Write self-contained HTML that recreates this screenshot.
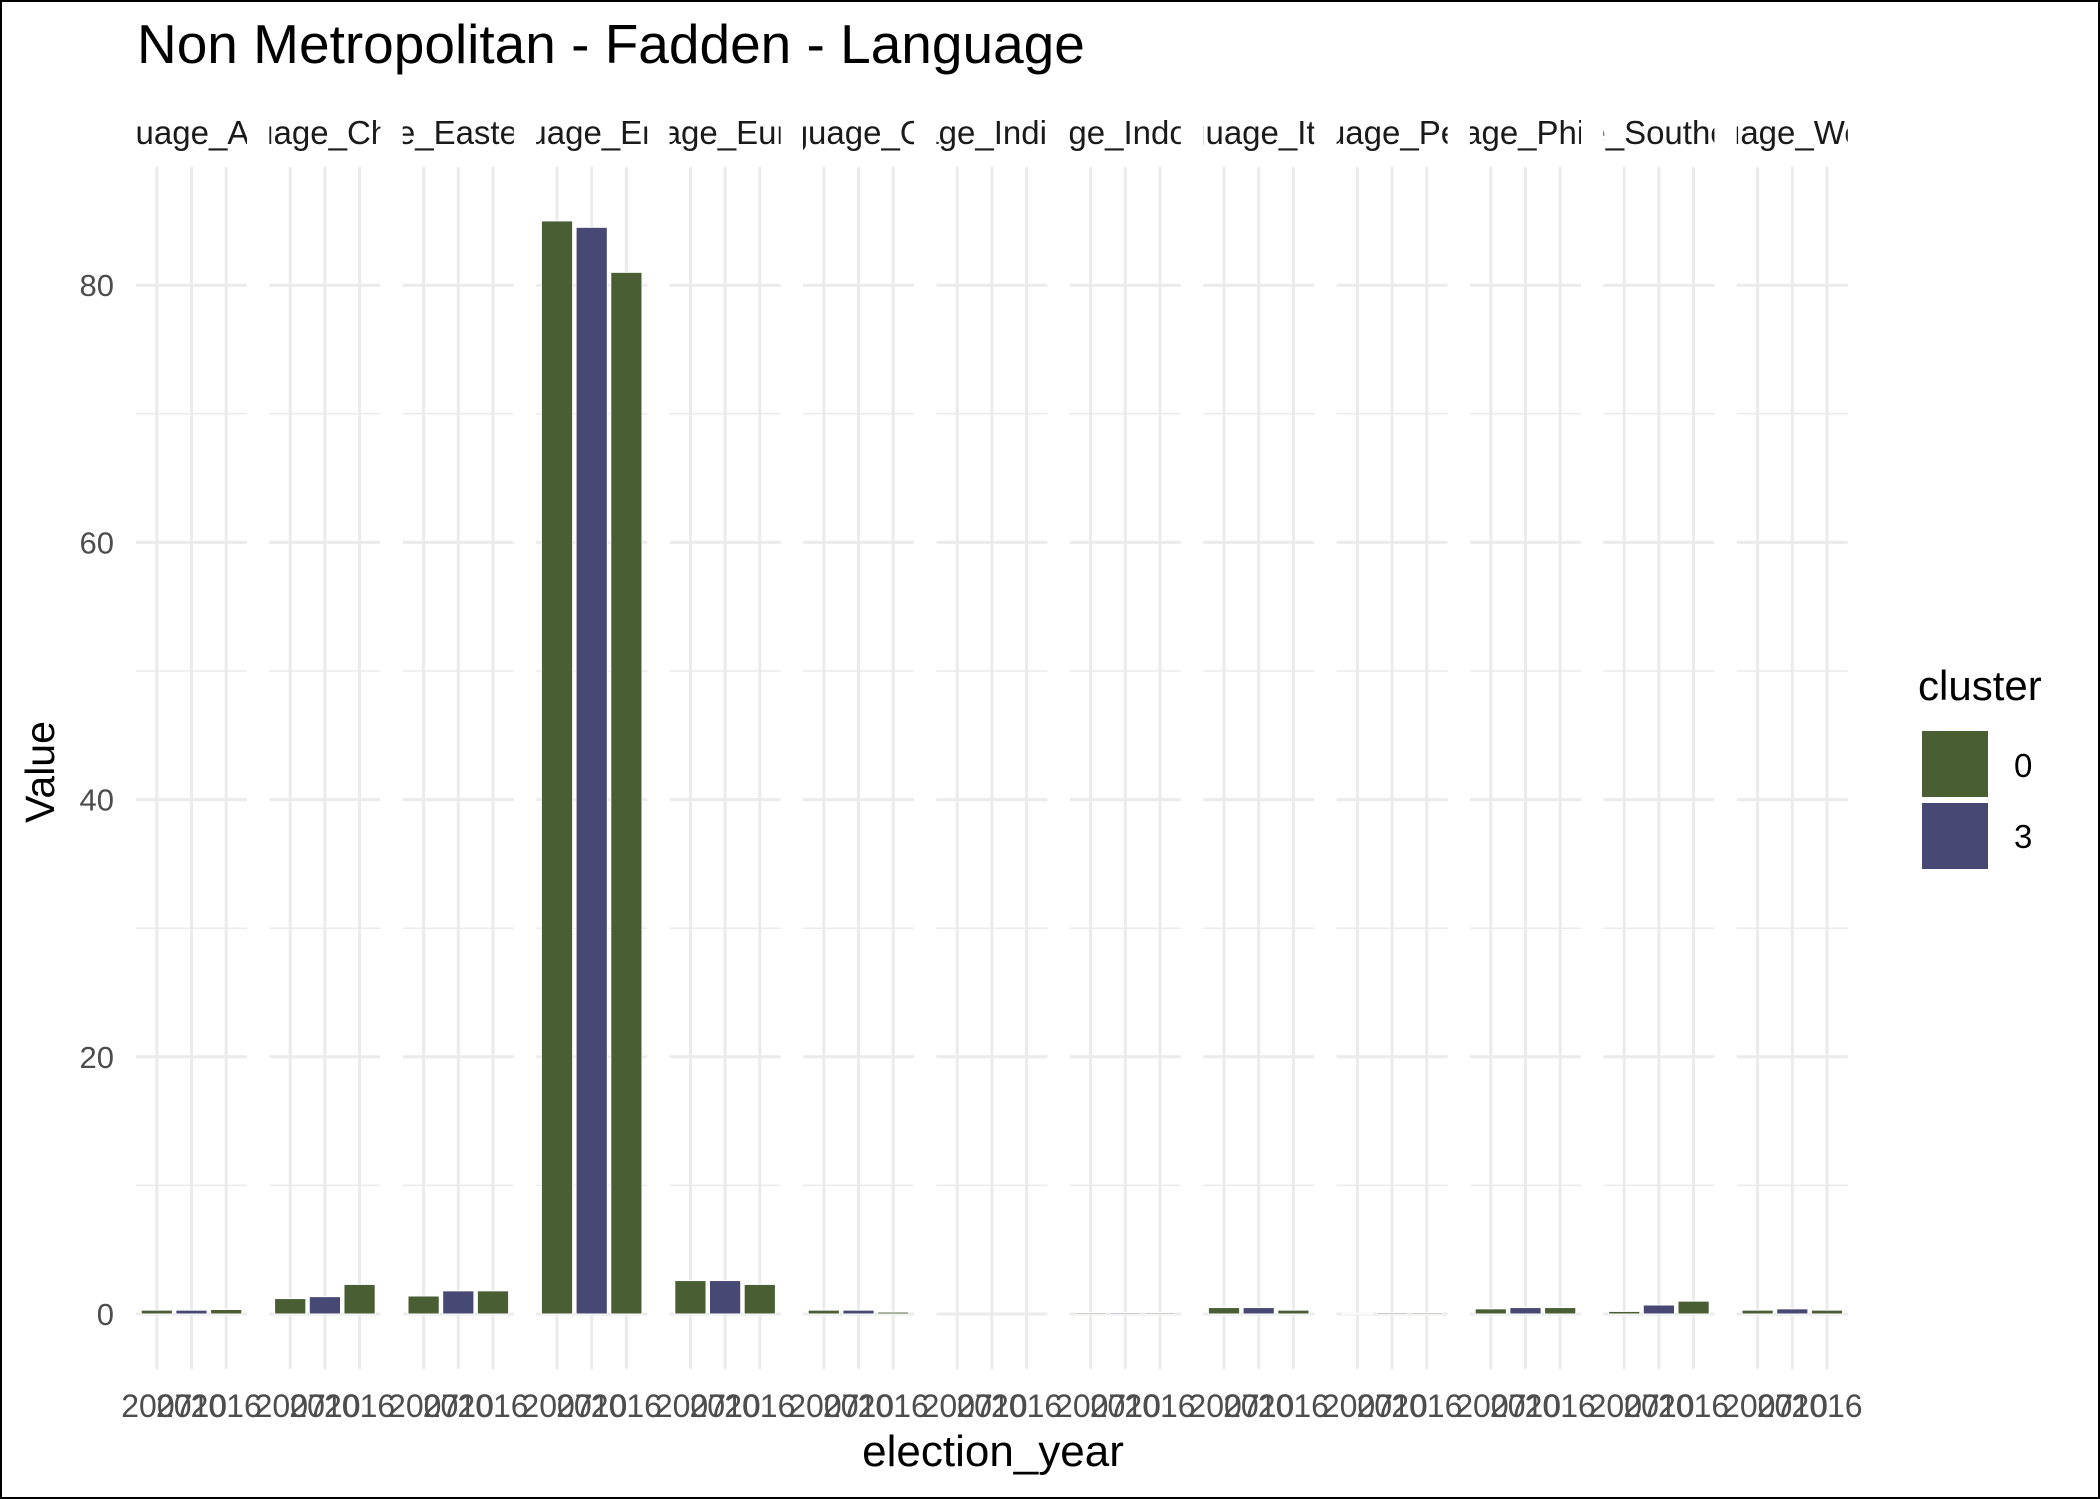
<!DOCTYPE html>
<html><head><meta charset="utf-8"><style>
html,body{margin:0;padding:0;background:#fff;}
svg{display:block;font-family:"Liberation Sans",Arial,sans-serif;}
</style></head><body>
<svg id="chart" width="2100" height="1499" viewBox="0 0 2100 1499">
<rect x="1" y="1" width="2098" height="1497" fill="#fff" stroke="#000" stroke-width="2"/>
<text x="137" y="63" font-size="55" fill="#000">Non Metropolitan - Fadden - Language</text>
<text transform="translate(54,772) rotate(-90)" text-anchor="middle" font-size="41" fill="#000">Value</text>
<text x="993" y="1466" text-anchor="middle" font-size="44" fill="#000">election_year</text>
<g id="plot"></g>
<g>
<text x="1918" y="700" font-size="42" fill="#000">cluster</text>
<rect x="1922" y="731" width="66" height="66" fill="#4a5e34"/>
<text x="2014" y="777" font-size="33" fill="#000">0</text>
<rect x="1922" y="803" width="66" height="66" fill="#474873"/>
<text x="2014" y="848" font-size="33" fill="#000">3</text>
</g>
</svg>
<script>
const panels = ["Language_Arabic","Language_Chinese","Language_Eastern_Asian","Language_English","Language_European","Language_Other","Language_Indigenous","Language_Indo_Aryan","Language_Italian","Language_Persian","Language_Philippine","Language_Southern_Asian","Language_Western"];
const years = ["2007","2010","2016"];
const clusters = ["0","3","0"];
const values2007 = [0.3,1.2,1.4,85,2.6,0.3,0,0.1,0.5,0.05,0.4,0.2,0.3];
const values2010 = [0.3,1.35,1.8,84.5,2.6,0.3,0,0.1,0.5,0.1,0.5,0.7,0.4];
const values2016 = [0.35,2.3,1.8,81,2.3,0.15,0,0.1,0.3,0.1,0.5,1.0,0.3];
const yTicks = [0,20,40,60,80];
const yMinor = [10,30,50,70];

const NS = "http://www.w3.org/2000/svg";
const plot = document.getElementById("plot");
const x0 = 136, pStep = 133.4, pW = 111, yTop = 167, yBot = 1369;
const y = v => 1314 - v * 12.86;
const unit = pW / 3.2;
const colors = {"0":"#4a5e34","3":"#474873"};
const series = [values2007, values2010, values2016];
function mk(tag, attrs){ const e = document.createElementNS(NS, tag); for (const k in attrs) e.setAttribute(k, attrs[k]); plot.appendChild(e); return e; }

const defs = mk("defs", {});
yTicks.forEach(t => {
  const lb = mk("text", {x:114, y:y(t)+11, "text-anchor":"end", "font-size":"31", fill:"#4d4d4d"});
  lb.textContent = t;
  
  
});
panels.forEach((p, i) => {
  const px = x0 + i * pStep;
  const cx = j => px + unit * (0.6 + j);
  yMinor.forEach(t => {
    const l = mk("line", {x1:px, x2:px+pW, y1:y(t), y2:y(t), stroke:"#ebebeb", "stroke-width":"1.5"});
    
    
  });
  yTicks.forEach(t => {
    const l = mk("line", {x1:px, x2:px+pW, y1:y(t), y2:y(t), stroke:"#ebebeb", "stroke-width":"3"});
    
    
  });
  years.forEach((yr, j) => {
    const l = mk("line", {x1:cx(j), x2:cx(j), y1:yTop, y2:yBot, stroke:"#ebebeb", "stroke-width":"3"});
    
    
  });
  years.forEach((yr, j) => {
    const v = series[j][i];
    const bw = unit * 0.9;
    const r = mk("rect", {x:cx(j)-bw/2, y:y(v), width:bw, height:Math.max(0, y(0)-y(v)), fill:colors[clusters[j]], stroke:"#fff", "stroke-width":"1"});
    
    
    const tl = mk("text", {x:cx(j), y:1417, "text-anchor":"middle", "font-size":"32", fill:"#4d4d4d"});
    tl.textContent = yr;
    
    
  });
  const cp = document.createElementNS(NS, "clipPath");
  cp.setAttribute("id", "clip" + i);
  const cr = document.createElementNS(NS, "rect");
  cr.setAttribute("x", px); cr.setAttribute("y", 100); cr.setAttribute("width", pW); cr.setAttribute("height", 60);
  cp.appendChild(cr); defs.appendChild(cp);
  const st = mk("text", {x:px+pW/2, y:144, "text-anchor":"middle", "font-size":"33", fill:"#1a1a1a", "clip-path":"url(#clip"+i+")"});
  st.textContent = p;
  
  
});
</script>
</body></html>
